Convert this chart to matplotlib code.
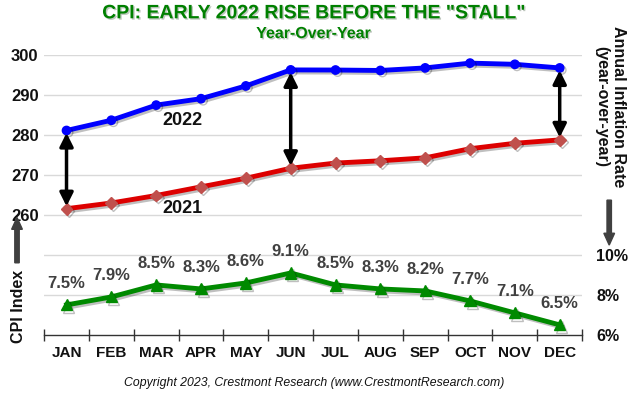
import matplotlib
matplotlib.use("Agg")
import matplotlib.pyplot as plt
import matplotlib.patheffects as pe
import numpy as np

plt.rcParams['font.family'] = ['Liberation Sans', 'DejaVu Sans']

months = ["JAN", "FEB", "MAR", "APR", "MAY", "JUN", "JUL", "AUG", "SEP", "OCT", "NOV", "DEC"]
cpi_2021 = [261.58, 263.01, 264.88, 267.05, 269.20, 271.70, 273.00, 273.57, 274.31, 276.59, 277.95, 278.80]
cpi_2022 = [281.15, 283.72, 287.50, 289.11, 292.30, 296.31, 296.28, 296.17, 296.81, 298.01, 297.71, 296.80]
inflation = [7.5, 7.9, 8.5, 8.3, 8.6, 9.1, 8.5, 8.3, 8.2, 7.7, 7.1, 6.5]
arrow_months = [0, 5, 11]
left_ticks = [260, 270, 280, 290, 300]
right_ticks = [6, 8, 10]

fig = plt.figure(figsize=(6.3, 3.94), dpi=100)
ax = fig.add_axes([0.070, 0.150, 0.854, 0.710])
x = np.arange(len(months))

shadow = [pe.SimpleLineShadow(offset=(1.5, -1.5), alpha=0.25, shadow_color='black'), pe.Normal()]

# gridlines
for g in range(240, 301, 10):
    ax.axhline(g, color='#d9d9d9', lw=1.0, zorder=0)

ax.plot(x, cpi_2022, color='#0000ff', lw=3.5, marker='o', ms=6, mfc='#0000ff', mec='#0000ff',
        zorder=3, path_effects=shadow)
ax.plot(x, cpi_2021, color='#dd0000', lw=3.5, marker='D', ms=6, mfc='#c0504d', mec='#c0504d',
        zorder=3, path_effects=shadow)

for m in arrow_months:
    ax.annotate("", xy=(m, cpi_2021[m] + 0.6), xytext=(m, cpi_2022[m] - 0.6),
                arrowprops=dict(arrowstyle='<|-|>,head_length=0.8,head_width=0.4', color='black', lw=2.5,
                                shrinkA=0, shrinkB=0), zorder=4)

ax.text(2.59, 283.75, "2022", ha='center', va='center', fontsize=13, fontweight='bold', color='#111111')
ax.text(2.59, 261.6, "2021", ha='center', va='center', fontsize=13, fontweight='bold', color='#111111')

ax.set_xlim(-0.5, 11.5)
ax.set_ylim(230, 300)
ax.set_yticks(left_ticks)
ax.set_yticklabels([str(t) for t in left_ticks], fontsize=12, fontweight='bold', color='#111111')
ax.tick_params(axis='y', length=0, pad=4)
ax.set_xticks(x)
ax.set_xticklabels(months, fontsize=11, fontweight='bold', color='#111111')
ax.set_xticks(np.arange(-0.5, 12, 1), minor=True)
ax.tick_params(axis='x', which='major', length=0, pad=8)
ax.tick_params(axis='x', which='minor', length=8, direction='inout', color='#333333', width=1)
for s in ['top', 'left', 'right']:
    ax.spines[s].set_visible(False)
ax.spines['bottom'].set_color('#333333')
ax.spines['bottom'].set_linewidth(1)

ax2 = ax.twinx()
ax2.set_ylim(6, 20)
ax2.plot(x, inflation, color='#008a00', lw=3.5, marker='^', ms=8, mfc='#008a00', mec='#008a00',
         zorder=3, path_effects=shadow)
for i, v in enumerate(inflation):
    ax2.annotate(f"{v}%", xy=(i, v), xytext=(0, 10), textcoords='offset points', ha='center',
                 va='bottom', fontsize=12, fontweight='bold', color='#404040')
ax2.set_yticks(right_ticks)
ax2.set_yticklabels([f"{t}%" for t in right_ticks], fontsize=11.5, fontweight='bold', color='#111111')
ax2.tick_params(axis='y', length=0, pad=10)
for s in ['top', 'left', 'right', 'bottom']:
    ax2.spines[s].set_visible(False)

title_fx = [pe.withSimplePatchShadow(offset=(1, -1), alpha=0.25)]
fig.text(0.498, 0.965, 'CPI: EARLY 2022 RISE BEFORE THE "STALL"', ha='center', va='center',
         fontsize=14, fontweight='bold', color='#008000', path_effects=title_fx)
fig.text(0.498, 0.915, 'Year-Over-Year', ha='center', va='center',
         fontsize=11.5, fontweight='bold', color='#008000', path_effects=title_fx)

fig.text(0.030, 0.222, 'CPI Index', rotation=90, ha='center', va='center',
         fontsize=11.5, fontweight='bold', color='#111111')
fig.patches.append(matplotlib.patches.FancyArrow(0.027, 0.333, 0, 0.085, width=0.007, head_width=0.017,
                                                 head_length=0.03, color='#404040',
                                                 transform=fig.transFigure, figure=fig))

fig.text(0.981, 0.73, 'Annual Inflation Rate', rotation=-90, ha='center', va='center',
         fontsize=11.5, fontweight='bold', color='#111111')
fig.text(0.955, 0.73, '(year-over-year)', rotation=-90, ha='center', va='center',
         fontsize=11.5, fontweight='bold', color='#111111')
fig.patches.append(matplotlib.patches.FancyArrow(0.967, 0.492, 0, -0.084, width=0.007, head_width=0.017,
                                                 head_length=0.03, color='#404040',
                                                 transform=fig.transFigure, figure=fig))

fig.text(0.498, 0.028, 'Copyright 2023, Crestmont Research (www.CrestmontResearch.com)', ha='center',
         va='center', fontsize=8.8, fontstyle='italic', color='#111111')

fig.savefig('out.png', dpi=100)
